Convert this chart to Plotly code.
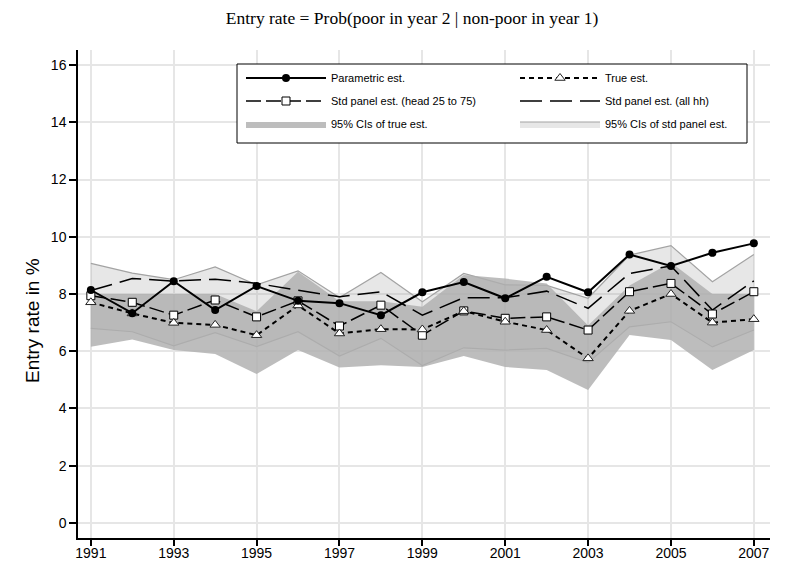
import plotly.graph_objects as go

years = list(range(1991, 2008))

parametric = [8.14, 7.33, 8.45, 7.44, 8.28, 7.76, 7.68, 7.26, 8.06, 8.42, 7.85, 8.60, 8.06, 9.38, 8.98, 9.44, 9.77]
true_est = [7.71, 7.32, 6.99, 6.92, 6.56, 7.60, 6.62, 6.77, 6.76, 7.40, 7.03, 6.74, 5.75, 7.41, 8.00, 7.00, 7.12]
std_head = [7.94, 7.71, 7.26, 7.79, 7.20, 7.76, 6.88, 7.61, 6.56, 7.41, 7.15, 7.20, 6.74, 8.08, 8.37, 7.30, 8.08]
std_all = [8.12, 8.54, 8.45, 8.52, 8.37, 8.14, 7.90, 8.08, 7.26, 7.87, 7.87, 8.10, 7.50, 8.72, 8.98, 7.44, 8.46]

ci_true_lo = [6.16, 6.41, 6.04, 5.90, 5.20, 6.04, 5.43, 5.51, 5.45, 5.83, 5.45, 5.34, 4.64, 6.57, 6.39, 5.34, 6.04]
ci_true_hi = [8.00, 8.00, 8.00, 8.00, 7.40, 8.78, 7.75, 7.75, 7.55, 8.66, 8.54, 8.37, 6.90, 8.30, 9.10, 8.00, 8.00]
ci_std_lo = [6.80, 6.68, 6.19, 6.65, 6.16, 6.68, 5.83, 6.45, 5.50, 6.12, 6.04, 6.10, 5.60, 6.85, 7.03, 6.15, 6.74]
ci_std_hi = [9.07, 8.73, 8.50, 8.95, 8.32, 8.81, 7.88, 8.75, 7.73, 8.72, 8.32, 8.30, 7.85, 9.36, 9.69, 8.43, 9.38]

x_ticks = list(range(1991, 2008, 2))
y_ticks = list(range(0, 17, 2))

fig = go.Figure()

# light band: CIs of std panel est.
fig.add_trace(go.Scatter(x=years, y=ci_std_lo, mode="lines",
                         line=dict(color="#a3a3a3", width=1.2),
                         showlegend=False, hoverinfo="skip"))
fig.add_trace(go.Scatter(x=years, y=ci_std_hi, mode="lines", fill="tonexty",
                         fillcolor="rgba(160,160,160,0.25)",
                         line=dict(color="#a3a3a3", width=1.2),
                         name="95% CIs of std panel est.", legend="legend2",
                         legendgroup="g6", legendrank=3))
# dark band: CIs of true est.
fig.add_trace(go.Scatter(x=years, y=ci_true_lo, mode="lines",
                         line=dict(color="rgba(0,0,0,0)", width=0),
                         showlegend=False, hoverinfo="skip"))
fig.add_trace(go.Scatter(x=years, y=ci_true_hi, mode="lines", fill="tonexty",
                         fillcolor="rgba(175,175,175,0.82)",
                         line=dict(color="rgba(0,0,0,0)", width=0),
                         name="95% CIs of true est.", legend="legend",
                         legendgroup="g5", legendrank=3))

fig.add_trace(go.Scatter(x=years, y=std_all, mode="lines",
                         line=dict(color="black", width=1.5, dash="22px,8px"),
                         name="Std panel est. (all hh)", legend="legend2",
                         legendgroup="g4", legendrank=2))
fig.add_trace(go.Scatter(x=years, y=std_head, mode="lines+markers",
                         line=dict(color="black", width=1.5, dash="15px,5px"),
                         marker=dict(symbol="square", size=8, color="white",
                                     line=dict(color="black", width=1)),
                         name="Std panel est. (head 25 to 75)", legend="legend",
                         legendgroup="g3", legendrank=2))
fig.add_trace(go.Scatter(x=years, y=true_est, mode="lines+markers",
                         line=dict(color="black", width=2, dash="5px,4px"),
                         marker=dict(symbol="triangle-up", size=9, color="white",
                                     line=dict(color="#222222", width=1)),
                         name="True est.", legend="legend2",
                         legendgroup="g2", legendrank=1))
fig.add_trace(go.Scatter(x=years, y=parametric, mode="lines+markers",
                         line=dict(color="black", width=2),
                         marker=dict(symbol="circle", size=8, color="black"),
                         name="Parametric est.", legend="legend",
                         legendgroup="g1", legendrank=1))

# figure-pixel layout: plot area x 70..762, y 42..530
PL, PR, PT, PB = 70, 762, 42, 530
PW, PH = PR - PL, PB - PT


def px_x(p):
    return (p - PL) / PW


def px_y(p):
    return 1 - (p - PT) / PH


legend_common = dict(orientation="v", yanchor="top", xanchor="left",
                     bgcolor="rgba(0,0,0,0)", borderwidth=0,
                     font=dict(size=11, color="black"),
                     itemwidth=80, traceorder="grouped", tracegroupgap=4)

fig.update_layout(
    width=787, height=566,
    margin=dict(l=PL, r=787 - PR, t=PT, b=566 - PB),
    paper_bgcolor="white", plot_bgcolor="white",
    font=dict(family="Liberation Sans, Arial, sans-serif", color="black"),
    title=dict(text="Entry rate = Prob(poor in year 2 | non-poor in year 1)",
               font=dict(family="Liberation Serif, Times New Roman, serif", size=17.5, color="black"),
               x=404 / 787, xanchor="center", y=1 - 10 / 566, yanchor="middle"),
    xaxis=dict(range=[1990.69, 2007.39], tickvals=x_ticks, automargin=False,
               showgrid=True, gridcolor="#e6e6e6", gridwidth=2,
               showline=True, linecolor="black", linewidth=1.5,
               ticks="outside", ticklen=6, tickcolor="black", tickwidth=1.5,
               ticklabelstandoff=-5,
               tickfont=dict(size=14, color="black"), zeroline=False),
    yaxis=dict(range=[-0.53, 16.53], tickvals=y_ticks, automargin=False,
               showgrid=True, gridcolor="#e6e6e6", gridwidth=2,
               showline=True, linecolor="black", linewidth=1.5,
               ticks="outside", ticklen=7, tickcolor="black", tickwidth=1.5,
               tickfont=dict(size=14, color="black"), zeroline=False),
    legend=dict(x=px_x(233), y=px_y(55.5), **legend_common),
    legend2=dict(x=px_x(507), y=px_y(55.5), **legend_common),
    shapes=[dict(type="rect", xref="paper", yref="paper",
                 x0=px_x(229), x1=px_x(739), y0=px_y(135), y1=px_y(56),
                 line=dict(color="black", width=1), fillcolor="white", layer="above")],
    annotations=[dict(text="Entry rate in %", xref="paper", yref="paper",
                      x=px_x(24), y=px_y(313),
                      xanchor="center", yanchor="middle", textangle=-90, showarrow=False,
                      font=dict(size=19, color="black"))],
)

fig.write_html("out.html")
